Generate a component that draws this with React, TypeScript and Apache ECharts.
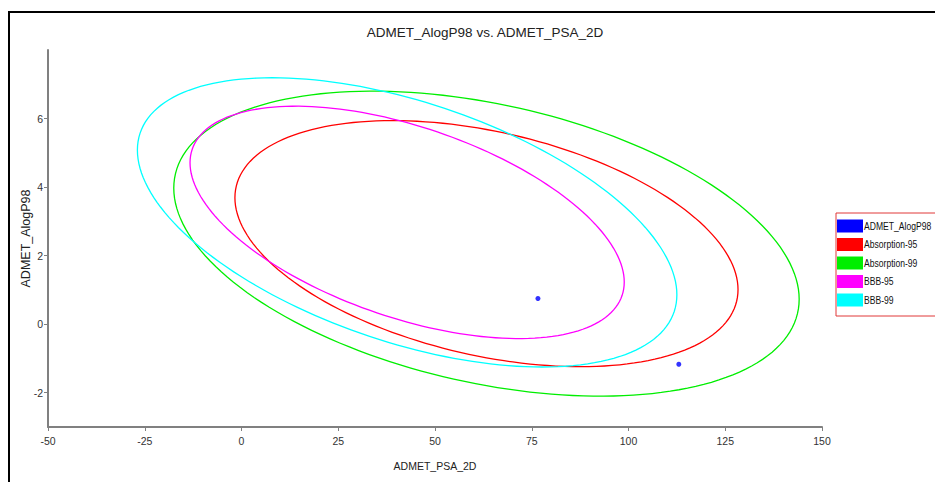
import React, { useEffect, useRef } from "react";
import * as echarts from "echarts";

// Scatter points: [ADMET_PSA_2D, ADMET_AlogP98]
const pointName = "ADMET_AlogP98";
const pointColor = "#0000ff";
const points: number[][] = [
  [76.6, 0.75],
  [113.0, -1.17],
];

// Confidence ellipses: [centerX, centerY, halfWidth(x), halfHeight(y), y-offset of the rightmost point]
const ellipseNames = ["Absorption-95", "Absorption-99", "BBB-95", "BBB-99"];
const ellipseColors = ["#ff0000", "#00ee00", "#ff00ff", "#00ffff"];
const absorption95 = [63.3, 2.35, 65.0, 3.59, -1.34];
const absorption99 = [63.3, 2.35, 80.8, 4.45, -1.62];
const bbb95 = [42.8, 2.97, 56.1, 3.39, -1.74];
const bbb99 = [42.8, 2.97, 69.7, 4.22, -2.11];
const ellipses = [absorption95, absorption99, bbb95, bbb99];

const xTicks = [-50, -25, 0, 25, 50, 75, 100, 125, 150];
const yTicks = [-2, 0, 2, 4, 6];

const legendNames = [pointName, ...ellipseNames];
const legendColors = [pointColor, ...ellipseColors];

const FONT = "'Liberation Sans', Arial, sans-serif";

export default function App() {
  const ref = useRef<HTMLDivElement>(null);
  useEffect(() => {
    if (!ref.current) return;
    const chart = echarts.init(ref.current, undefined, { renderer: "svg" });

    const renderEllipse = (color: string) => (params: any, api: any) => {
      const cx = api.value(0);
      const cy = api.value(1);
      const w = api.value(2);
      const h = api.value(3);
      const dy = api.value(4);
      const k = Math.sqrt(Math.max(h * h - dy * dy, 0));
      const pts: number[][] = [];
      const n = 180;
      for (let i = 0; i < n; i++) {
        const t = (i / n) * Math.PI * 2;
        const x = cx + w * Math.cos(t);
        const y = cy + dy * Math.cos(t) + k * Math.sin(t);
        pts.push(api.coord([x, y]));
      }
      return {
        type: "polygon",
        shape: { points: pts },
        style: { fill: "none", stroke: color, lineWidth: 1.3 },
        silent: true,
      };
    };

    const ellipseSeries = ellipseNames.map((name, i) => ({
      name,
      type: "custom",
      renderItem: renderEllipse(ellipseColors[i]),
      itemStyle: { color: ellipseColors[i] },
      encode: { x: 0, y: 1 },
      data: [ellipses[i]],
      z: 2,
    }));

    // Legend box drawn as graphic so that its texts can be narrowed like the reference
    const legendX = 836;
    const legendY = 213;
    const rowH = 18.5;
    const legendGraphic: any[] = [
      {
        type: "rect",
        shape: { x: legendX, y: legendY, width: 120, height: 103 },
        style: { fill: "#fff", stroke: "#e03838", lineWidth: 1 },
        silent: true,
        z: 50,
      },
    ];
    legendNames.forEach((name, i) => {
      const cy = legendY + 13 + i * rowH;
      legendGraphic.push({
        type: "rect",
        shape: { x: legendX + 1, y: cy - 6.5, width: 26, height: 13 },
        style: { fill: legendColors[i] },
        silent: true,
        z: 51,
      });
      legendGraphic.push({
        type: "text",
        x: legendX + 28,
        y: cy,
        scaleX: 0.78,
        style: {
          text: name,
          fontFamily: FONT,
          fontSize: 11,
          fill: "#111",
          verticalAlign: "middle",
          align: "left",
        },
        silent: true,
        z: 52,
      });
    });

    chart.setOption({
      animation: false,
      backgroundColor: "#ffffff",
      title: {
        text: "ADMET_AlogP98 vs. ADMET_PSA_2D",
        left: 480,
        textAlign: "center",
        top: 20,
        textStyle: { fontFamily: FONT, fontSize: 13.5, fontWeight: "normal", color: "#222" },
      },
      grid: { left: 48, right: 113, top: 50, bottom: 55 },
      xAxis: {
        type: "value",
        min: -50,
        max: 150,
        interval: 25,
        name: "ADMET_PSA_2D",
        nameLocation: "middle",
        nameGap: 33,
        nameTextStyle: { fontFamily: FONT, fontSize: 10.5, color: "#222" },
        splitLine: { show: false },
        axisLine: { onZero: false, lineStyle: { color: "#808080", width: 2 } },
        axisTick: { show: true, length: 4, lineStyle: { color: "#808080" } },
        axisLabel: {
          fontFamily: FONT,
          fontSize: 10.5,
          color: "#333",
          margin: 8,
          customValues: xTicks,
        },
      },
      yAxis: {
        type: "value",
        min: -3,
        max: 8,
        name: "ADMET_AlogP98",
        nameLocation: "middle",
        nameGap: 16,
        nameRotate: 90,
        nameMoveOverlap: false,
        nameTextStyle: { fontFamily: FONT, fontSize: 12.5, color: "#222" },
        splitLine: { show: false },
        axisLine: { show: true, onZero: false, lineStyle: { color: "#808080", width: 2 } },
        axisTick: { show: true, length: 4, lineStyle: { color: "#808080" }, customValues: yTicks },
        axisLabel: {
          fontFamily: FONT,
          fontSize: 10.5,
          color: "#333",
          margin: 5,
          customValues: yTicks,
        },
      },
      graphic: [
        {
          type: "rect",
          shape: { x: 9, y: 12, width: 1000, height: 1000 },
          style: { fill: "none", stroke: "#000", lineWidth: 2 },
          silent: true,
          z: 100,
        },
        ...legendGraphic,
      ],
      series: [
        {
          name: pointName,
          type: "scatter",
          symbol: "circle",
          symbolSize: 5,
          itemStyle: { color: pointColor },
          data: points,
          z: 3,
        },
        ...ellipseSeries,
      ],
    });
    return () => chart.dispose();
  }, []);
  return (
    <div
      ref={ref}
      style={{ position: "fixed", left: 0, top: 0, width: 935, height: 482, background: "#fff" }}
    />
  );
}
